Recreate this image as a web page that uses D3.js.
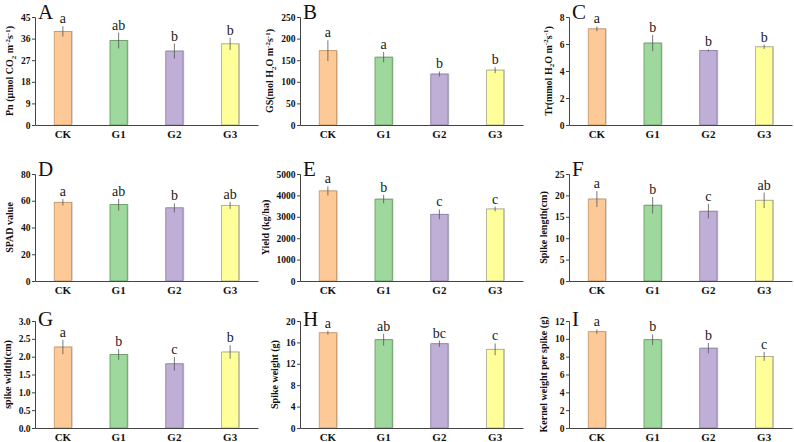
<!DOCTYPE html>
<html>
<head>
<meta charset="utf-8">
<script src="https://cdn.jsdelivr.net/npm/d3@7"></script>
<style>
  body { margin: 0; background: #fff; }
  svg { display: block; }
</style>
</head>
<body>
<svg id="chart" width="794" height="442"></svg>
<script>
const groups = ["CK", "G1", "G2", "G3"];

// A: net photosynthetic rate
const pnMean = [39.0, 35.2, 30.8, 33.8];
const pnErr = [2.2, 3.3, 3.1, 2.5];
const pnSig = ["a", "ab", "b", "b"];
const pnTicks = [0, 9, 18, 27, 36, 45];
// B: stomatal conductance
const gsMean = [172, 157, 118, 127];
const gsErr = [24, 12, 6, 7];
const gsSig = ["a", "a", "b", "b"];
const gsTicks = [0, 50, 100, 150, 200, 250];
// C: transpiration
const trMean = [7.12, 6.07, 5.52, 5.79];
const trErr = [0.18, 0.6, 0.08, 0.16];
const trSig = ["a", "b", "b", "b"];
const trTicks = [0, 2, 4, 6, 8];
// D: SPAD
const spadMean = [58.8, 57.1, 54.7, 56.5];
const spadErr = [2.4, 4.4, 3.4, 2.6];
const spadSig = ["a", "ab", "b", "ab"];
const spadTicks = [0, 20, 40, 60, 80];
// E: yield
const yieldMean = [4210, 3825, 3115, 3365];
const yieldErr = [215, 195, 230, 110];
const yieldSig = ["a", "b", "c", "c"];
const yieldTicks = [0, 1000, 2000, 3000, 4000, 5000];
// F: spike length
const lenMean = [19.15, 17.7, 16.3, 18.85];
const lenErr = [1.85, 1.95, 1.7, 1.8];
const lenSig = ["a", "b", "c", "ab"];
const lenTicks = [0, 5, 10, 15, 20, 25];
// G: spike width
const widMean = [2.27, 2.06, 1.80, 2.13];
const widErr = [0.2, 0.15, 0.19, 0.19];
const widSig = ["a", "b", "c", "b"];
const widTicks = [0, 0.5, 1.0, 1.5, 2.0, 2.5, 3.0];
// H: spike weight
const swMean = [17.8, 16.5, 15.75, 14.7];
const swErr = [0.35, 1.1, 0.6, 1.1];
const swSig = ["a", "ab", "bc", "c"];
const swTicks = [0, 4, 8, 12, 16, 20];
// I: kernel weight per spike
const kwMean = [10.8, 9.9, 8.95, 8.02];
const kwErr = [0.25, 0.6, 0.58, 0.5];
const kwSig = ["a", "b", "b", "c"];
const kwTicks = [0, 2, 4, 6, 8, 10, 12];

const panels = [
  { id: "A", mean: pnMean, err: pnErr, sig: pnSig, ticks: pnTicks, fmt: "d",
    label: [["Pn (\u03bcmol CO"], ["2", "sub"], [" m"], ["-2", "sup"], ["s"], ["-1", "sup"], [")"]] },
  { id: "B", mean: gsMean, err: gsErr, sig: gsSig, ticks: gsTicks, fmt: "d",
    label: [["GS(mol H"], ["2", "sub"], ["O m"], ["-2", "sup"], ["s"], ["-1", "sup"], [")"]] },
  { id: "C", mean: trMean, err: trErr, sig: trSig, ticks: trTicks, fmt: "d",
    label: [["Tr(mmol H"], ["2", "sub"], ["O m"], ["-2", "sup"], ["s"], ["-1", "sup"], [")"]] },
  { id: "D", mean: spadMean, err: spadErr, sig: spadSig, ticks: spadTicks, fmt: "d",
    label: [["SPAD value"]] },
  { id: "E", mean: yieldMean, err: yieldErr, sig: yieldSig, ticks: yieldTicks, fmt: "d",
    label: [["Yield (kg/ha)"]] },
  { id: "F", mean: lenMean, err: lenErr, sig: lenSig, ticks: lenTicks, fmt: "d",
    label: [["Spike length(cm)"]] },
  { id: "G", mean: widMean, err: widErr, sig: widSig, ticks: widTicks, fmt: ".1f",
    label: [["spike width(cm)"]] },
  { id: "H", mean: swMean, err: swErr, sig: swSig, ticks: swTicks, fmt: "d",
    label: [["Spike weight (g)"]] },
  { id: "I", mean: kwMean, err: kwErr, sig: kwSig, ticks: kwTicks, fmt: "d",
    label: [["Kernel weight per spike (g)"]] }
];

const fills = ["#fdc996", "#9fd89c", "#bfaed6", "#ffff99"];
const strokes = ["#c99262", "#5c9a5c", "#8c7ca8", "#a9a98e"];

// grid of plot areas: [left, right] per column, [top, bottom] per row
const cols = [[35, 258], [300, 523], [569, 792]];
const rows = [[17, 125], [174, 281], [321, 428]];
const letterDy = [2, 2, 5];

const serif = "Liberation Serif, Times New Roman, serif";
const svg = d3.select("#chart").attr("font-family", serif);

panels.forEach((p, i) => {
  const [x0, x1] = cols[i % 3];
  const r = Math.floor(i / 3);
  const [y0, y1] = rows[r];

  const x = d3.scaleBand().domain(groups).range([x0, x1]).padding(0);
  const y = d3.scaleLinear().domain([0, d3.max(p.ticks)]).range([y1, y0]);
  const barW = x.bandwidth() * 0.31;

  const g = svg.append("g");

  const data = groups.map((k, j) => ({ k, j, m: p.mean[j], e: p.err[j], s: p.sig[j] }));

  // soft grey shadow on the bars
  g.selectAll(".shadow").data(data).enter().append("rect")
    .attr("x", d => x(d.k) + x.bandwidth() / 2 - barW / 2 + 1.2)
    .attr("y", d => y(d.m) - 0.5)
    .attr("width", barW)
    .attr("height", d => y1 - y(d.m))
    .attr("fill", "#c8c8c8");

  g.selectAll(".bar").data(data).enter().append("rect")
    .attr("x", d => x(d.k) + x.bandwidth() / 2 - barW / 2)
    .attr("y", d => y(d.m))
    .attr("width", barW)
    .attr("height", d => y1 - y(d.m))
    .attr("fill", d => fills[d.j])
    .attr("stroke", d => strokes[d.j])
    .attr("stroke-width", 0.8);

  g.selectAll(".err").data(data).enter().append("line")
    .attr("x1", d => x(d.k) + x.bandwidth() / 2)
    .attr("x2", d => x(d.k) + x.bandwidth() / 2)
    .attr("y1", d => y(d.m - d.e))
    .attr("y2", d => y(d.m + d.e))
    .attr("stroke", "#555")
    .attr("stroke-width", 0.8);

  g.selectAll(".sig").data(data).enter().append("text")
    .attr("x", d => x(d.k) + x.bandwidth() / 2)
    .attr("y", d => y(d.m + d.e) - 3)
    .attr("text-anchor", "middle")
    .attr("font-family", serif)
    .attr("font-size", 14)
    .attr("fill", "#1a1a1a")
    .text(d => d.s);

  // y axis
  const yAxis = g.append("g")
    .attr("transform", `translate(${x0},0)`)
    .call(d3.axisLeft(y).tickValues(p.ticks).tickSize(3).tickPadding(1.5)
      .tickFormat(d3.format(p.fmt)));
  yAxis.attr("font-family", serif).attr("font-size", 9.5).attr("font-weight", "bold");
  yAxis.select(".domain").attr("stroke", "#444");
  yAxis.selectAll(".tick line").attr("stroke", "#444");
  yAxis.selectAll("text").attr("fill", "#111");

  // x axis
  const xAxis = g.append("g")
    .attr("transform", `translate(0,${y1})`)
    .call(d3.axisBottom(x).tickSize(0).tickPadding(5));
  xAxis.attr("font-family", serif).attr("font-size", 11).attr("font-weight", "bold");
  xAxis.select(".domain").attr("stroke", "#444");
  xAxis.selectAll("text").attr("fill", "#111");

  // y label, placed just left of the tick labels
  const box = yAxis.node().getBBox();
  const lx = x0 + box.x - 8;
  const ly = (y0 + y1) / 2;
  const lab = g.append("text")
    .attr("transform", `translate(${lx},${ly}) rotate(-90)`)
    .attr("text-anchor", "middle")
    .attr("font-family", serif)
    .attr("font-weight", "bold")
    .attr("font-size", 10)
    .attr("fill", "#111");
  let shift = 0;
  p.label.forEach(([t, kind]) => {
    const target = kind === "sub" ? 2.5 : kind === "sup" ? -3.5 : 0;
    lab.append("tspan")
      .attr("dy", target - shift)
      .attr("font-size", kind ? 7 : 10)
      .text(t);
    shift = target;
  });

  // panel letter
  g.append("text")
    .attr("x", x0 + 3)
    .attr("y", y0 + letterDy[r])
    .attr("font-family", serif)
    .attr("font-size", 21)
    .attr("fill", "#111")
    .text(p.id);
});
</script>
</body>
</html>
